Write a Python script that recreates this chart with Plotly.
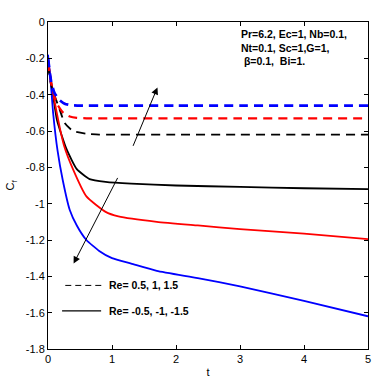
import plotly.graph_objects as go

# ---- data ----
# dashed curves: Re = 0.5, 1, 1.5
t_pos_15 = [0, 0.05, 0.1, 0.18, 0.26, 0.34, 0.5, 1.0, 2.0, 3.0, 4.0, 5.0]
re_pos_15 = [-0.2, -0.33, -0.39, -0.43, -0.45, -0.457, -0.46, -0.46, -0.46, -0.46, -0.46, -0.46]
t_pos_10 = [0, 0.05, 0.14, 0.24, 0.34, 0.45, 0.6, 1.0, 2.0, 3.0, 4.0, 5.0]
re_pos_10 = [-0.22, -0.34, -0.45, -0.5, -0.52, -0.528, -0.53, -0.53, -0.53, -0.53, -0.53, -0.53]
t_pos_05 = [0, 0.05, 0.18, 0.26, 0.39, 0.6, 0.8, 1.0, 2.0, 3.0, 4.0, 5.0]
re_pos_05 = [-0.24, -0.35, -0.48, -0.555, -0.6, -0.615, -0.62, -0.62, -0.62, -0.62, -0.62, -0.62]

# solid curves: Re = -0.5, -1, -1.5
t_neg_05 = [0, 0.05, 0.14, 0.29, 0.45, 0.65, 0.9, 1.3, 2.0, 3.0, 4.0, 5.0]
re_neg_05 = [-0.22, -0.33, -0.54, -0.7, -0.81, -0.865, -0.88, -0.89, -0.9, -0.908, -0.915, -0.92]
t_neg_10 = [0, 0.05, 0.16, 0.25, 0.39, 0.6, 0.9, 1.1, 1.7, 2.34, 3.0, 4.0, 5.0]
re_neg_10 = [-0.2, -0.33, -0.54, -0.68, -0.81, -0.96, -1.045, -1.07, -1.1, -1.12, -1.14, -1.165, -1.195]
t_neg_15 = [0, 0.04, 0.08, 0.15, 0.23, 0.34, 0.45, 0.6, 0.8, 1.0, 1.3, 1.7, 2.34, 3.0, 4.0, 5.0]
re_neg_15 = [-0.18, -0.32, -0.5, -0.71, -0.87, -1.035, -1.12, -1.2, -1.26, -1.3, -1.33, -1.37, -1.41, -1.455, -1.535, -1.62]

legend_labels = ["Re= 0.5, 1, 1.5", "Re= -0.5, -1, -1.5"]
params_text = "Pr=6.2, Ec=1, Nb=0.1,<br>Nt=0.1, Sc=1,G=1,<br> \u03b2=0.1,  Bi=1."

FONT = "Arial, Liberation Sans, sans-serif"
fig = go.Figure()

def add(x, y, color, dash, width):
    fig.add_trace(go.Scatter(x=x, y=y, mode="lines",
                             line=dict(color=color, dash=dash, width=width, shape="spline", smoothing=0.5),
                             showlegend=False, hoverinfo="skip"))

add(t_neg_05, re_neg_05, "black", "solid", 1.8)
add(t_neg_10, re_neg_10, "#ff0000", "solid", 1.8)
add(t_neg_15, re_neg_15, "#0000ff", "solid", 1.8)
add(t_pos_05, re_pos_05, "black", "9px,6px", 1.8)
add(t_pos_10, re_pos_10, "#ff0000", "9px,6px", 2.2)
add(t_pos_15, re_pos_15, "#0000ff", "9px,6px", 2.8)

# arrows
fig.add_annotation(x=1.71, y=-0.36, ax=1.32, ay=-0.69, xref="x", yref="y", axref="x", ayref="y",
                   showarrow=True, arrowhead=2, arrowsize=1.4, arrowwidth=1, arrowcolor="black", text="")
fig.add_annotation(x=0.4, y=-1.33, ax=1.1, ay=-0.85, xref="x", yref="y", axref="x", ayref="y",
                   showarrow=True, arrowhead=2, arrowsize=1.4, arrowwidth=1, arrowcolor="black", text="")

# legend samples
fig.add_shape(type="line", x0=0.27, x1=0.85, y0=-1.45, y1=-1.45, xref="x", yref="y",
              line=dict(color="black", width=1, dash="6px,4px"))
fig.add_shape(type="line", x0=0.22, x1=0.83, y0=-1.59, y1=-1.59, xref="x", yref="y",
              line=dict(color="black", width=1.2))
fig.add_annotation(x=0.92, y=-1.45, xref="x", yref="y", text="<b>" + legend_labels[0] + "</b>", showarrow=False,
                   xanchor="left", yanchor="middle", font=dict(family=FONT, size=10.5, color="black"))
fig.add_annotation(x=0.92, y=-1.59, xref="x", yref="y", text="<b>" + legend_labels[1] + "</b>", showarrow=False,
                   xanchor="left", yanchor="middle", font=dict(family=FONT, size=10.5, color="black"))

fig.add_annotation(x=2.98, y=-0.02, xref="x", yref="y", text="<b>" + params_text + "</b>", showarrow=False,
                   xanchor="left", yanchor="top", align="left", font=dict(family=FONT, size=10.5, color="black"))

axis_common = dict(showline=True, linecolor="black", linewidth=1, mirror="allticks", ticks="inside", ticklen=4,
                   tickcolor="black", showgrid=False, zeroline=False,
                   tickfont=dict(family=FONT, size=11, color="black"))
fig.update_xaxes(range=[0, 5], tickvals=[0, 1, 2, 3, 4, 5],
                 title=dict(text="t", font=dict(family=FONT, size=11, color="black"), standoff=4), **axis_common)
fig.update_yaxes(range=[-1.8, 0], tickvals=[0, -0.2, -0.4, -0.6, -0.8, -1, -1.2, -1.4, -1.6, -1.8],
                 ticktext=["0", "-0.2", "-0.4", "-0.6", "-0.8", "-1", "-1.2", "-1.4", "-1.6", "-1.8"],
                 title=dict(text="C<sub>f</sub>", font=dict(family=FONT, size=11, color="black"), standoff=8), **axis_common)

fig.update_layout(width=376, height=382, margin=dict(l=48, r=5, t=22, b=33),
                  paper_bgcolor="white", plot_bgcolor="white", showlegend=False)
fig.write_html("out.html")
